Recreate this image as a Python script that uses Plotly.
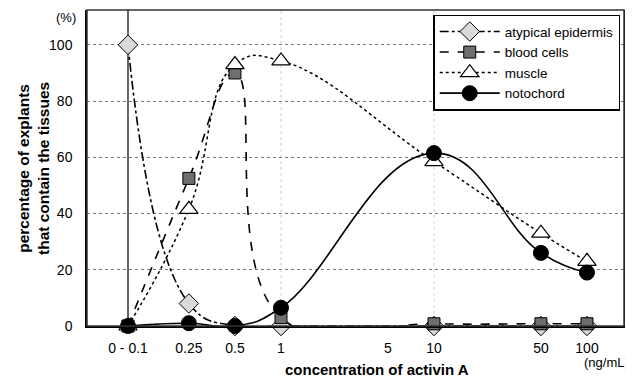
import plotly.graph_objects as go

conc = [0.1, 0.25, 0.5, 1, 10, 50, 100]
tick_vals = [0.1, 0.25, 0.5, 1, 5, 10, 50, 100]
tick_text = ["0 - 0.1", "0.25", "0.5", "1", "5", "10", "50", "100"]
vgrid_vals = [1, 10]

atypical = [100, 8, 0, 0, 0, 0, 0]
blood = [0, 52.5, 90, 3, 0.8, 0.8, 0.8]
muscle = [0, 41.5, 93, 94.3, 58.5, 33, 23]
notochord = [0, 1, 0, 6.5, 61.5, 26, 19]

font = "Liberation Sans, Arial, sans-serif"

fig = go.Figure()
fig.add_trace(go.Scatter(
    x=conc, y=atypical, name="atypical epidermis", mode="lines+markers",
    line=dict(color="black", width=1.6, dash="dashdot", shape="spline", smoothing=1.3),
    marker=dict(symbol="diamond", size=15, color="#d9d9d9", line=dict(color="black", width=1)),
    cliponaxis=False))
fig.add_trace(go.Scatter(
    x=conc, y=blood, name="blood cells", mode="lines+markers",
    line=dict(color="black", width=1.6, dash="dash", shape="spline", smoothing=1.3),
    marker=dict(symbol="square", size=12, color="#6e6e6e", line=dict(color="black", width=1)),
    cliponaxis=False))
fig.add_trace(go.Scatter(
    x=conc, y=muscle, name="muscle", mode="lines+markers",
    line=dict(color="black", width=1.5, dash="dot", shape="spline", smoothing=1.3),
    marker=dict(symbol="triangle-up", size=16, color="white", line=dict(color="black", width=1.2)),
    cliponaxis=False))
fig.add_trace(go.Scatter(
    x=conc, y=notochord, name="notochord", mode="lines+markers",
    line=dict(color="black", width=1.6, shape="spline", smoothing=1.3),
    marker=dict(symbol="circle", size=15, color="black", line=dict(color="black", width=1)),
    cliponaxis=False))

# y-axis crossing line at 0.1
fig.add_shape(type="line", xref="x", yref="paper", x0=tick_vals[0], x1=tick_vals[0], y0=0, y1=1,
              line=dict(color="black", width=1.2), layer="below")
for v in vgrid_vals:
    fig.add_shape(type="line", xref="x", yref="paper", x0=v, x1=v, y0=0, y1=1,
                  line=dict(color="#d0d0d0", width=1, dash="dot"), layer="below")

# page body has an 8px default margin, so the figure is sized to fit the window
fig.update_layout(
    width=625, height=371,
    margin=dict(l=79, r=9, t=2, b=53, autoexpand=False),
    plot_bgcolor="white", paper_bgcolor="white",
    font=dict(family=font, size=14, color="black"),
    showlegend=True,
    legend=dict(x=0.993, y=0.985, xanchor="right", yanchor="top",
                bordercolor="black", borderwidth=1.5, bgcolor="white",
                font=dict(size=13.5, family=font), tracegroupgap=0,
                itemwidth=60),
    xaxis=dict(type="log", range=[-1.268, 2.242], tickvals=tick_vals, ticktext=tick_text,
               showgrid=False, automargin=False,
               showline=True, linecolor="black", linewidth=2, mirror=False,
               ticks="", zeroline=False, tickfont=dict(size=14), ticklabelstandoff=8),
    yaxis=dict(range=[0, 112.4], tickvals=[0, 20, 40, 60, 80, 100], automargin=False,
               showgrid=True, gridcolor="#777777", griddash="dot", gridwidth=1,
               showline=True, linecolor="black", linewidth=1.5, mirror=True,
               ticks="", zeroline=False, tickfont=dict(size=14), ticklabelstandoff=10),
)
# top and right border
fig.add_shape(type="rect", xref="paper", yref="paper", x0=0, x1=1, y0=0, y1=1,
              line=dict(color="#333333", width=1.5))

fig.add_annotation(text="<b>percentage of explants<br>that contain the tissues</b>", xref="paper", yref="paper",
                   x=-0.1006, y=0.5, xanchor="center", yanchor="middle", textangle=-90, showarrow=False,
                   font=dict(size=15.5, family=font), align="center")
fig.add_annotation(text="<b>concentration of activin A</b>", xref="paper", yref="paper",
                   x=0.54, y=-0.139, xanchor="center", yanchor="middle", showarrow=False,
                   font=dict(size=15, family=font))
fig.add_annotation(text="(%)", xref="paper", yref="paper", x=-0.039, y=0.975, xanchor="center",
                   yanchor="middle", showarrow=False, font=dict(size=13, family=font))
fig.add_annotation(text="(ng/mL)", xref="paper", yref="paper", x=0.968, y=-0.117, xanchor="center",
                   yanchor="middle", showarrow=False, font=dict(size=13, family=font))

fig.write_html("out.html")
